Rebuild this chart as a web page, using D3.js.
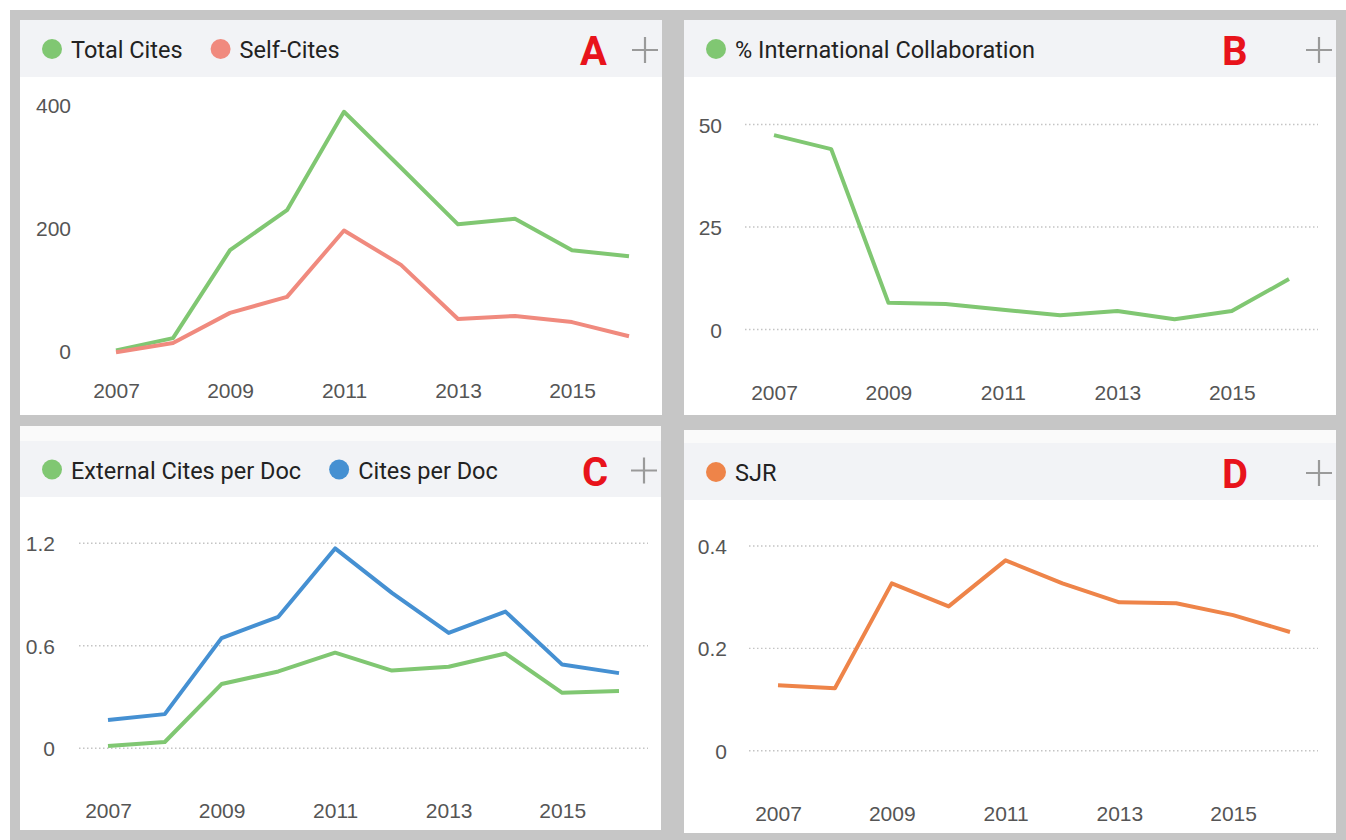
<!DOCTYPE html>
<html>
<head>
<meta charset="utf-8">
<script src="https://cdn.jsdelivr.net/npm/d3@7"></script>
<style>
  body { margin: 0; background: #fff; }
  svg { display: block; font-family: Roboto, "Noto Sans", sans-serif; }
  .tick text { fill: #555; font-size: 21px; }
</style>
</head>
<body>
<svg id="chart" width="1346" height="840"></svg>
<script>
// data
const years = [2007, 2008, 2009, 2010, 2011, 2012, 2013, 2014, 2015, 2016];
const yearTicks = [2007, 2009, 2011, 2013, 2015];

const totalCites = [1, 21, 164, 229, 389, 298, 206, 215, 164, 154];
const selfCites = [-2, 13, 62, 88, 196, 140, 52, 57, 47, 24];

const intlCollab = [47.4, 44.0, 6.5, 6.2, 4.8, 3.5, 4.5, 2.5, 4.5, 12.3];

const extCitesPerDoc = [0.013, 0.037, 0.376, 0.45, 0.56, 0.455, 0.477, 0.555, 0.325, 0.335];
const citesPerDoc = [0.166, 0.20, 0.645, 0.77, 1.17, 0.91, 0.675, 0.80, 0.49, 0.44];

const sjr = [0.128, 0.122, 0.327, 0.282, 0.372, 0.327, 0.290, 0.288, 0.265, 0.232];

const ticksA = [0, 200, 400];
const ticksB = [0, 25, 50];
const ticksC = [0, 0.6, 1.2];
const ticksD = [0, 0.2, 0.4];

const green = "#80c772", red = "#f08a7e", blue = "#4590d2", orange = "#ee8449";

const svg = d3.select("#chart");

svg.append("rect").attr("x", 10).attr("y", 10).attr("width", 1336).attr("height", 830).attr("fill", "#c6c6c6");

function drawPanel(p) {
  const g = svg.append("g");

  g.append("rect")
    .attr("x", p.box[0]).attr("y", p.box[1])
    .attr("width", p.box[2] - p.box[0]).attr("height", p.box[3] - p.box[1])
    .attr("fill", "#fff");
  if (p.topStrip) {
    g.append("rect")
      .attr("x", p.box[0]).attr("y", p.box[1])
      .attr("width", p.box[2] - p.box[0]).attr("height", p.head[0] - p.box[1])
      .attr("fill", "#fafafa");
  }
  g.append("rect")
    .attr("x", p.box[0]).attr("y", p.head[0])
    .attr("width", p.box[2] - p.box[0]).attr("height", p.head[1] - p.head[0])
    .attr("fill", "#f2f3f6");

  // legend
  const legY = (p.head[0] + p.head[1]) / 2 + 1.5;
  let lx = p.box[0] + 22;
  p.series.forEach((s) => {
    g.append("circle").attr("cx", lx + 10).attr("cy", legY - 1).attr("r", 10).attr("fill", s.color);
    const t = g.append("text")
      .attr("x", lx + 29).attr("y", legY)
      .attr("dy", "0.36em")
      .attr("font-size", 23.5).attr("fill", "#222")
      .text(s.name);
    lx += 29 + t.node().getComputedTextLength() + 28;
  });

  // panel letter and plus
  g.append("text")
    .attr("x", p.letterX).attr("y", legY + 15)
    .attr("font-size", 40).attr("font-weight", "bold")
    .attr("fill", "#e8131b")
    .attr("font-family", "'Liberation Sans Narrow', Roboto, sans-serif")
    .text(p.letter);
  const px = p.box[2] - 17, py = legY;
  g.append("path")
    .attr("d", `M${px - 13},${py}H${px + 13}M${px},${py - 13}V${py + 13}`)
    .attr("stroke", "#9a9a9a").attr("stroke-width", 2.2).attr("fill", "none");

  const x = d3.scaleLinear().domain([2007, 2016]).range(p.xr);
  const y = d3.scaleLinear().domain([p.yTicks[0], p.yTicks[2]]).range(p.yr);

  if (p.grid) {
    g.append("g")
      .selectAll("line")
      .data(p.yTicks)
      .join("line")
      .attr("x1", p.grid[0]).attr("x2", p.grid[1])
      .attr("y1", (d) => y(d)).attr("y2", (d) => y(d))
      .attr("stroke", "#c4c4c4").attr("stroke-width", 1.4)
      .attr("stroke-dasharray", "1.5,2.5");
  }

  const yAxis = g.append("g")
    .attr("transform", `translate(${p.yLabelX},0)`)
    .call(d3.axisLeft(y).tickValues(p.yTicks).tickSize(0).tickPadding(0).tickFormat(d3.format("")));
  yAxis.select(".domain").remove();
  yAxis.selectAll("text").attr("dy", "0.36em");

  const xAxis = g.append("g")
    .attr("transform", `translate(0,${p.xLabelY})`)
    .call(d3.axisBottom(x).tickValues(yearTicks).tickSize(0).tickPadding(0).tickFormat(d3.format("d")));
  xAxis.select(".domain").remove();
  xAxis.selectAll("text").attr("dy", "0.36em");

  const line = d3.line().x((d, i) => x(years[i])).y((d) => y(d));
  p.series.forEach((s) => {
    g.append("path")
      .datum(s.values)
      .attr("d", line)
      .attr("fill", "none")
      .attr("stroke", s.color)
      .attr("stroke-width", 4)
      .attr("stroke-linejoin", "round");
  });
}

drawPanel({
  box: [20, 20, 662, 415], head: [20, 77], letter: "A", letterX: 580,
  series: [
    { name: "Total Cites", color: green, values: totalCites },
    { name: "Self-Cites", color: red, values: selfCites },
  ],
  xr: [116, 629], yr: [351, 105], yTicks: ticksA, yLabelX: 71, xLabelY: 390,
});

drawPanel({
  box: [684, 20, 1336, 415], head: [20, 77], letter: "B", letterX: 1222,
  series: [{ name: "% International Collaboration", color: green, values: intlCollab }],
  xr: [774, 1289], yr: [329.5, 124.5], yTicks: ticksB, yLabelX: 722, xLabelY: 392,
  grid: [745, 1318],
});

drawPanel({
  box: [20, 426, 661, 830], head: [441, 497], topStrip: true, letter: "C", letterX: 582,
  series: [
    { name: "External Cites per Doc", color: green, values: extCitesPerDoc },
    { name: "Cites per Doc", color: blue, values: citesPerDoc },
  ],
  xr: [108, 619], yr: [748.3, 543.3], yTicks: ticksC, yLabelX: 55, xLabelY: 810,
  grid: [79, 648],
});

drawPanel({
  box: [684, 430, 1336, 833], head: [443, 500], topStrip: true, letter: "D", letterX: 1222,
  series: [{ name: "SJR", color: orange, values: sjr }],
  xr: [778, 1290], yr: [750.7, 546], yTicks: ticksD, yLabelX: 727, xLabelY: 813,
  grid: [749, 1318],
});
</script>
</body>
</html>
